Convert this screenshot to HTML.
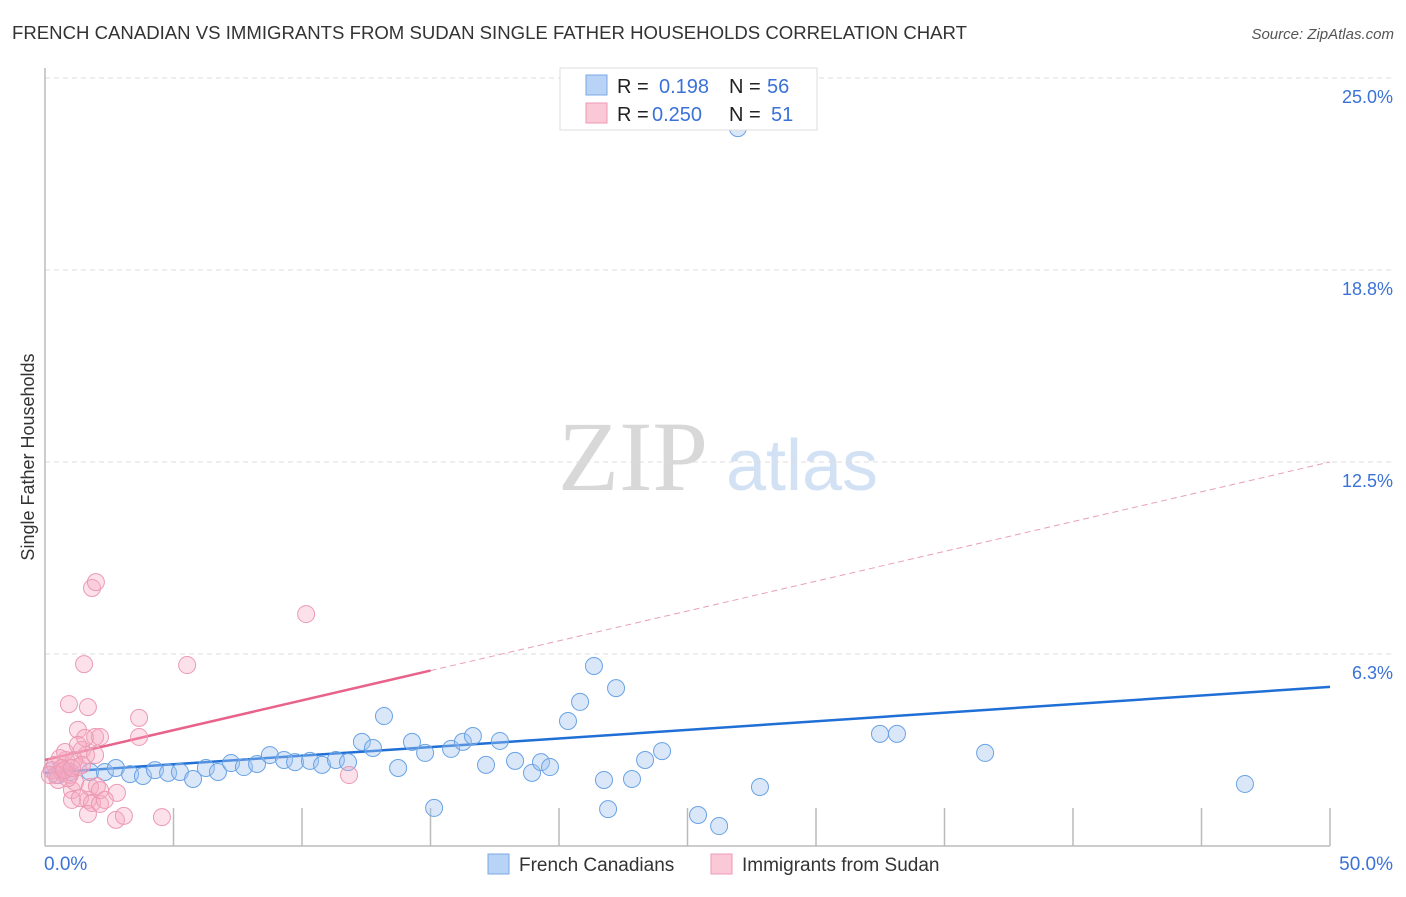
<!DOCTYPE html>
<html><head><meta charset="utf-8"><style>
body{margin:0;background:#fff;font-family:"Liberation Sans",sans-serif;}
svg text{font-family:"Liberation Sans",sans-serif;}
svg text.serif{font-family:"Liberation Serif",serif;}
</style></head><body>
<svg id="chart" width="1406" height="892" viewBox="0 0 1406 892" xmlns="http://www.w3.org/2000/svg">
<text x="12" y="39" font-size="18" fill="#333" textLength="955" lengthAdjust="spacingAndGlyphs">FRENCH CANADIAN VS IMMIGRANTS FROM SUDAN SINGLE FATHER HOUSEHOLDS CORRELATION CHART</text>
<text x="1394" y="39" font-size="15" fill="#555" font-style="italic" text-anchor="end">Source: ZipAtlas.com</text>
<g>
<text class="serif" x="633" y="490" font-size="100" fill="#d8d8d8" text-anchor="middle">ZIP</text>
<text x="802" y="490" font-size="72" fill="#d2e1f4" text-anchor="middle">atlas</text>
</g>
<text transform="translate(34,457) rotate(-90)" font-size="18" fill="#333" text-anchor="middle">Single Father Households</text>
<g id="grid"></g>
<g id="axes"></g>
<g id="lines"></g>
<g id="points"></g>
<g>
<rect x="560" y="68" width="257" height="62" fill="#fff" stroke="#ddd"/>
<rect x="586" y="75" width="21" height="20" fill="#b8d3f5" stroke="#7aaae6"/>
<rect x="586" y="103" width="21" height="20" fill="#fbc8d7" stroke="#ee9ab3"/>
<text x="617" y="93" font-size="20" fill="#222">R = </text><text x="659" y="93" font-size="20" fill="#3a72d8">0.198</text>
<text x="729" y="93" font-size="20" fill="#222">N = </text><text x="767" y="93" font-size="20" fill="#3a72d8">56</text>
<text x="617" y="121" font-size="20" fill="#222">R = </text><text x="652" y="121" font-size="20" fill="#3a72d8">0.250</text>
<text x="729" y="121" font-size="20" fill="#222">N = </text><text x="771" y="121" font-size="20" fill="#3a72d8">51</text>
</g>
<g>
<rect x="488" y="854" width="21" height="20" fill="#b8d3f5" stroke="#7aaae6"/>
<text x="519" y="871" font-size="19" fill="#333">French Canadians</text>
<rect x="711" y="854" width="21" height="20" fill="#fbc8d7" stroke="#ee9ab3"/>
<text x="742" y="871" font-size="19" fill="#333">Immigrants from Sudan</text>
</g>
</svg>
<script>
const yTicks=[6.25,12.5,18.75,25];
const yTickLabels=["6.3%","12.5%","18.8%","25.0%"];
const xTickLabels=["0.0%","50.0%"];
const blueX=[0.27,0.51,0.97,1.75,2.33,2.76,3.31,3.81,4.28,4.79,5.25,5.76,6.26,6.73,7.24,7.74,8.25,8.75,9.30,9.73,10.31,10.78,11.32,11.79,12.33,12.76,13.19,13.74,14.28,14.79,15.14,15.80,16.26,16.65,17.16,17.70,18.29,18.95,19.30,19.65,20.35,20.82,21.36,21.75,22.22,21.91,22.84,23.35,24.01,25.41,26.23,26.96,27.82,32.49,33.15,36.58,46.69];
const blueY=[2.47,2.31,2.41,2.41,2.41,2.54,2.34,2.28,2.47,2.38,2.41,2.18,2.54,2.41,2.70,2.57,2.67,2.96,2.80,2.73,2.77,2.64,2.80,2.73,3.39,3.19,4.23,2.54,3.39,3.03,1.24,3.16,3.39,3.58,2.64,3.42,2.77,2.38,2.73,2.57,4.07,4.69,5.86,2.15,5.14,1.20,2.18,2.80,3.09,1.01,0.65,23.37,1.92,3.65,3.65,3.03,2.02];
const pinkX=[0.27,0.39,0.51,0.66,0.82,0.97,1.05,1.17,1.28,1.44,1.60,1.67,1.83,1.98,1.52,0.93,1.67,1.28,1.56,1.95,2.14,1.75,2.02,1.05,1.36,1.83,2.14,1.67,2.80,2.76,3.07,3.66,3.66,4.55,5.53,10.16,11.83,0.58,0.78,1.13,1.44,0.43,0.66,0.89,2.14,2.33,1.28,1.95,0.19,0.74,1.05];
const pinkY=[2.47,2.64,2.15,2.41,2.80,2.31,1.82,2.08,2.57,3.13,2.96,1.50,8.40,8.59,5.92,4.62,4.52,3.78,3.52,3.55,3.55,1.92,1.95,1.50,1.56,1.40,1.37,1.04,1.73,0.85,0.98,4.17,3.55,0.94,5.89,7.55,2.31,2.86,3.06,2.80,2.64,2.31,2.54,2.21,1.82,1.50,3.29,2.96,2.31,2.47,2.54];
const blueTrend=[2.38,5.18];
const pinkTrend=[2.80,12.5];
const pinkSolidEnd=15;

const NS="http://www.w3.org/2000/svg";
const X0=45,X1=1330,Y0=846,PXY=30.72;
const sx=v=>X0+v/50*(X1-X0);
const sy=v=>Y0-v*PXY;
function mk(tag,attrs,parent){const e=document.createElementNS(NS,tag);for(const k in attrs)e.setAttribute(k,attrs[k]);parent.appendChild(e);return e;}
const grid=document.getElementById('grid'),axes=document.getElementById('axes'),lines=document.getElementById('lines'),pts=document.getElementById('points');
yTicks.forEach((t,i)=>{
  const l=mk('line',{x1:X0,x2:1395,y1:sy(t),y2:sy(t),stroke:'#ddd','stroke-dasharray':'5,4'},grid);
  
  
  const tx=mk('text',{x:1393,y:sy(t)+25,'font-size':18,fill:'#3a72d8','text-anchor':'end'},grid);
  tx.textContent=yTickLabels[i];
  
  
});
let a=mk('line',{x1:X0,x2:X0,y1:68,y2:Y0,stroke:'#bbb','stroke-width':1.5},axes);


a=mk('line',{x1:X0,x2:X1,y1:Y0,y2:Y0,stroke:'#bbb','stroke-width':1.5},axes);


for(let v=5;v<=50;v+=5){
  const t=mk('line',{x1:sx(v),x2:sx(v),y1:808,y2:Y0,stroke:'#bbb','stroke-width':1.5},axes);
  
  
}
[0,50].forEach((v,i)=>{
  const tx=mk('text',{x:i==0?44:1393,y:870,'font-size':19,fill:'#3a72d8','text-anchor':i==0?'start':'end'},axes);
  tx.textContent=xTickLabels[i];
  
  
});
function drawPts(xs,ys,fill,stroke,name){
  xs.forEach((x,i)=>{
    const c=mk('circle',{cx:sx(x),cy:sy(ys[i]),r:8.5,fill:fill,stroke:stroke,'stroke-width':1},pts);
    
    
  });
}
drawPts(blueX,blueY,'rgba(160,196,240,0.4)','#6aa3e4','french-canadian-point');
drawPts(pinkX,pinkY,'rgba(245,170,195,0.35)','#eb9ab2','sudan-point');
const pAt=x=>pinkTrend[0]+(pinkTrend[1]-pinkTrend[0])*x/50;
let ln=mk('line',{x1:sx(pinkSolidEnd),y1:sy(pAt(pinkSolidEnd)),x2:sx(50),y2:sy(pinkTrend[1]),stroke:'#e8a0b5','stroke-width':1,'stroke-dasharray':'6,4'},lines);


ln=mk('line',{x1:sx(0),y1:sy(pinkTrend[0]),x2:sx(pinkSolidEnd),y2:sy(pAt(pinkSolidEnd)),stroke:'#e8628a','stroke-width':2.5},lines);


ln=mk('line',{x1:sx(0),y1:sy(blueTrend[0]),x2:sx(50),y2:sy(blueTrend[1]),stroke:'#1f6fd6','stroke-width':2.5},lines);


</script>
</body></html>
